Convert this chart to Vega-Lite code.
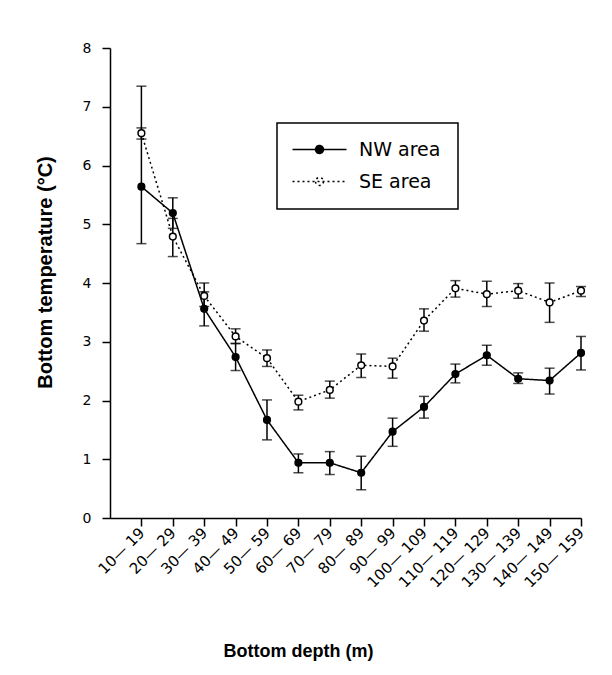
{
  "$schema": "https://vega.github.io/schema/vega-lite/v6.json",
  "autosize": {"type": "none"},
  "width": 471,
  "height": 470,
  "padding": {"left": 110, "top": 48, "right": 31, "bottom": 157},
  "background": "white",
  "config": {
    "view": {"stroke": null},
    "axis": {
      "domainColor": "black", "domainWidth": 1.5,
      "tickColor": "black", "tickWidth": 1.5, "tickSize": 8,
      "labelColor": "black", "labelFont": "DejaVu Sans", "labelFontSize": 14,
      "titleColor": "black", "titleFont": "Liberation Sans", "titleFontWeight": "bold",
      "grid": false
    }
  },
  "data": {
    "values": [
      {"depth_min": 10, "area": "NW area", "mean": 5.64, "lo": 4.67, "hi": 7.35},
      {"depth_min": 20, "area": "NW area", "mean": 5.19, "lo": 4.93, "hi": 5.45},
      {"depth_min": 30, "area": "NW area", "mean": 3.56, "lo": 3.27, "hi": 3.85},
      {"depth_min": 40, "area": "NW area", "mean": 2.74, "lo": 2.51, "hi": 2.97},
      {"depth_min": 50, "area": "NW area", "mean": 1.67, "lo": 1.33, "hi": 2.01},
      {"depth_min": 60, "area": "NW area", "mean": 0.94, "lo": 0.77, "hi": 1.09},
      {"depth_min": 70, "area": "NW area", "mean": 0.94, "lo": 0.74, "hi": 1.13},
      {"depth_min": 80, "area": "NW area", "mean": 0.77, "lo": 0.48, "hi": 1.05},
      {"depth_min": 90, "area": "NW area", "mean": 1.47, "lo": 1.22, "hi": 1.70},
      {"depth_min": 100, "area": "NW area", "mean": 1.89, "lo": 1.70, "hi": 2.07},
      {"depth_min": 110, "area": "NW area", "mean": 2.45, "lo": 2.30, "hi": 2.62},
      {"depth_min": 120, "area": "NW area", "mean": 2.77, "lo": 2.60, "hi": 2.94},
      {"depth_min": 130, "area": "NW area", "mean": 2.37, "lo": 2.29, "hi": 2.47},
      {"depth_min": 140, "area": "NW area", "mean": 2.34, "lo": 2.11, "hi": 2.55},
      {"depth_min": 150, "area": "NW area", "mean": 2.81, "lo": 2.52, "hi": 3.09},
      {"depth_min": 10, "area": "SE area", "mean": 6.55, "lo": 6.45, "hi": 6.64},
      {"depth_min": 20, "area": "SE area", "mean": 4.79, "lo": 4.45, "hi": 5.10},
      {"depth_min": 30, "area": "SE area", "mean": 3.78, "lo": 3.60, "hi": 4.00},
      {"depth_min": 40, "area": "SE area", "mean": 3.09, "lo": 2.97, "hi": 3.22},
      {"depth_min": 50, "area": "SE area", "mean": 2.72, "lo": 2.58, "hi": 2.86},
      {"depth_min": 60, "area": "SE area", "mean": 1.98, "lo": 1.84, "hi": 2.09},
      {"depth_min": 70, "area": "SE area", "mean": 2.18, "lo": 2.04, "hi": 2.33},
      {"depth_min": 80, "area": "SE area", "mean": 2.60, "lo": 2.39, "hi": 2.79},
      {"depth_min": 90, "area": "SE area", "mean": 2.58, "lo": 2.38, "hi": 2.72},
      {"depth_min": 100, "area": "SE area", "mean": 3.36, "lo": 3.18, "hi": 3.56},
      {"depth_min": 110, "area": "SE area", "mean": 3.91, "lo": 3.76, "hi": 4.04},
      {"depth_min": 120, "area": "SE area", "mean": 3.81, "lo": 3.60, "hi": 4.03},
      {"depth_min": 130, "area": "SE area", "mean": 3.87, "lo": 3.74, "hi": 3.99},
      {"depth_min": 140, "area": "SE area", "mean": 3.67, "lo": 3.33, "hi": 4.00},
      {"depth_min": 150, "area": "SE area", "mean": 3.87, "lo": 3.77, "hi": 3.94}
    ]
  },
  "encoding": {
    "x": {
      "field": "depth_min", "type": "quantitative",
      "scale": {"domain": [0, 150], "nice": false, "zero": true},
      "axis": {
        "title": "Bottom depth (m)", "titleFontSize": 18,
        "values": [10, 20, 30, 40, 50, 60, 70, 80, 90, 100, 110, 120, 130, 140, 150],
        "labelExpr": "datum.value + '— ' + (datum.value + 9)",
        "labelAngle": -45, "labelAlign": "right", "labelBaseline": "middle",
        "labelPadding": 4, "labelFontSize": 15, "labelOverlap": false,
        "titleX": 188, "titleY": 124
      }
    }
  },
  "layer": [
    {
      "mark": {"type": "rule", "color": "black", "strokeWidth": 1.5},
      "encoding": {
        "y": {
          "field": "lo", "type": "quantitative",
          "scale": {"domain": [0, 8], "nice": false},
          "axis": {
            "title": "Bottom temperature (°C)", "titleFontSize": 20,
            "values": [0, 1, 2, 3, 4, 5, 6, 7, 8], "format": "d", "labelOverlap": false,
            "labelPadding": 11, "titlePadding": 27, "titleY": 224
          }
        },
        "y2": {"field": "hi"}
      }
    },
    {
      "mark": {"type": "tick", "orient": "horizontal", "color": "black", "thickness": 1.5, "size": 10},
      "encoding": {"y": {"field": "lo", "type": "quantitative"}}
    },
    {
      "mark": {"type": "tick", "orient": "horizontal", "color": "black", "thickness": 1.5, "size": 10},
      "encoding": {"y": {"field": "hi", "type": "quantitative"}}
    },
    {
      "mark": {"type": "line", "color": "black", "strokeWidth": 1.5},
      "encoding": {
        "y": {"field": "mean", "type": "quantitative"},
        "strokeDash": {
          "field": "area", "type": "nominal",
          "scale": {"domain": ["NW area", "SE area"], "range": [[1, 0], [2, 3]]},
          "legend": {
            "title": null,
            "orient": "none", "legendX": 167, "legendY": 75,
            "padding": 17, "strokeColor": "black", "fillColor": "white",
            "symbolType": "M-5.4,0H5.4M0.8,0A0.8,0.8,0,1,1,-0.8,0A0.8,0.8,0,1,1,0.8,0",
            "symbolSize": 100, "symbolStrokeColor": "black", "symbolStrokeWidth": 1.5,
            "symbolOffset": 16, "labelOffset": 30,
            "labelFont": "DejaVu Sans", "labelFontSize": 19, "labelColor": "black",
            "rowPadding": 12,
            "encode": {
              "symbols": {"update": {"fill": {"signal": "datum.value === 'NW area' ? 'black' : 'white'"}, "stroke": {"value": "black"}}},
              "legend": {"update": {"strokeWidth": {"value": 1.5}}}
            }
          }
        }
      }
    },
    {
      "mark": {"type": "point", "shape": "circle", "size": 45, "stroke": "black", "strokeWidth": 1.5, "opacity": 1},
      "encoding": {
        "y": {"field": "mean", "type": "quantitative"},
        "fill": {
          "field": "area", "type": "nominal",
          "scale": {"domain": ["NW area", "SE area"], "range": ["black", "white"]},
          "legend": null
        }
      }
    }
  ]
}
